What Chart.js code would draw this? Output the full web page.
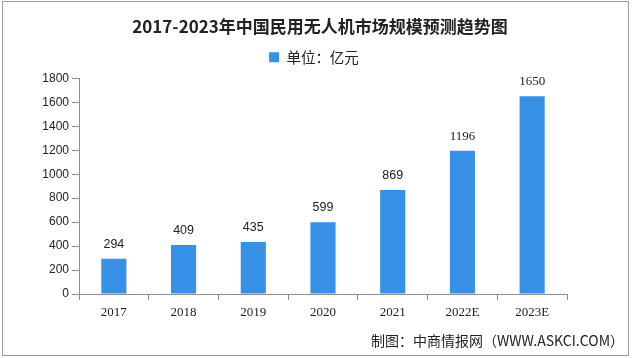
<!DOCTYPE html>
<html>
<head>
<meta charset="utf-8">
<script src="https://cdn.jsdelivr.net/npm/chart.js@4.4.1/dist/chart.umd.min.js"></script>
<style>
  html, body { margin: 0; padding: 0; background: #ffffff; }
  #wrap { width: 640px; height: 358px; position: relative; }
</style>
</head>
<body>
<div id="wrap"><canvas id="c" width="640" height="358"></canvas></div>
<script>
const titleText = '2017-2023年中国民用无人机市场规模预测趋势图';
const seriesName = '单位：亿元';
const sourceText = '制图：中商情报网（WWW.ASKCI.COM）';
const categories = ['2017', '2018', '2019', '2020', '2021', '2022E', '2023E'];
const values = [294, 409, 435, 599, 869, 1196, 1650];
const yTicks = [0, 200, 400, 600, 800, 1000, 1200, 1400, 1600, 1800];

const barColor = '#3590e6';
const axisColor = '#8c8c8c';
const textColor = '#222222';

const decor = {
  id: 'decor',
  beforeDraw(chart) {
    const ctx = chart.ctx;
    ctx.save();
    ctx.fillStyle = '#ffffff';
    ctx.fillRect(0, 0, chart.width, chart.height);
    ctx.restore();
  },
  afterLayout(chart) {
    // centre the title across the full canvas and put the legend where the reference has it
    if (chart.titleBlock) { chart.titleBlock.left = 0; chart.titleBlock.right = chart.width; }
    if (chart.legend) {
      chart.legend.left = -6; chart.legend.right = chart.width - 6;
      chart.legend.top -= 4; chart.legend.bottom -= 4;
    }
  },
  afterDraw(chart) {
    const ctx = chart.ctx;
    ctx.save();
    ctx.strokeStyle = '#9a9a9a';
    ctx.lineWidth = 1;
    ctx.strokeRect(2.5, 1.5, 626, 354);
    ctx.fillStyle = textColor;
    ctx.font = '14px "Noto Sans CJK SC", sans-serif';
    ctx.textAlign = 'right';
    ctx.textBaseline = 'middle';
    ctx.fillText(sourceText, 624, 341);
    ctx.restore();
  },
  afterDatasetsDraw(chart) {
    const ctx = chart.ctx;
    const meta = chart.getDatasetMeta(0);
    ctx.save();
    ctx.fillStyle = textColor;
    ctx.textAlign = 'center';
    ctx.textBaseline = 'middle';
    meta.data.forEach((bar, i) => {
      const lbl = categories[i];
      ctx.font = lbl.endsWith('E') ? '13px "Liberation Serif", serif' : '12.5px "Liberation Sans", Arial, sans-serif';
      ctx.fillText(String(values[i]), bar.x, bar.y - 14.5);
    });
    ctx.restore();
  }
};

new Chart(document.getElementById('c'), {
  type: 'bar',
  data: {
    labels: categories,
    datasets: [{
      label: seriesName,
      data: values,
      backgroundColor: barColor,
      borderWidth: 0,
      barPercentage: 0.36,
      categoryPercentage: 1.0
    }]
  },
  options: {
    responsive: false,
    animation: false,
    devicePixelRatio: 1,
    layout: { padding: { left: 0, right: 73, top: 0, bottom: 34 } },
    plugins: {
      title: {
        display: true,
        text: titleText,
        color: textColor,
        font: { family: '"Noto Sans CJK SC", sans-serif', size: 17, weight: 'bold', lineHeight: 1.2 },
        padding: { top: 16, bottom: 1 }
      },
      legend: {
        display: true,
        labels: {
          color: textColor,
          font: { family: '"Noto Sans CJK SC", sans-serif', size: 14.5 },
          boxWidth: 10,
          boxHeight: 10,
          padding: 16.5,
          useBorderRadius: false
        }
      },
      tooltip: { enabled: false }
    },
    scales: {
      x: {
        grid: { display: true, offset: true, drawOnChartArea: false, drawTicks: true, tickLength: 6, color: axisColor },
        border: { display: true, color: axisColor, width: 1 },
        ticks: { color: textColor, font: { family: '"Liberation Serif", serif', size: 13 }, padding: 5, maxRotation: 0 },
        afterFit(scale) { scale.height = 30; }
      },
      y: {
        min: 0,
        max: 1800,
        afterBuildTicks(scale) { scale.ticks = yTicks.map(v => ({ value: v })); },
        grid: { display: true, drawOnChartArea: false, drawTicks: true, tickLength: 7, color: axisColor },
        border: { display: true, color: axisColor, width: 1 },
        ticks: { color: textColor, font: { family: '"Liberation Sans", Arial, sans-serif', size: 12 }, padding: 3, callback: (v) => String(v) },
        afterFit(scale) { scale.width = 79; }
      }
    }
  },
  plugins: [decor]
});
</script>
</body>
</html>
